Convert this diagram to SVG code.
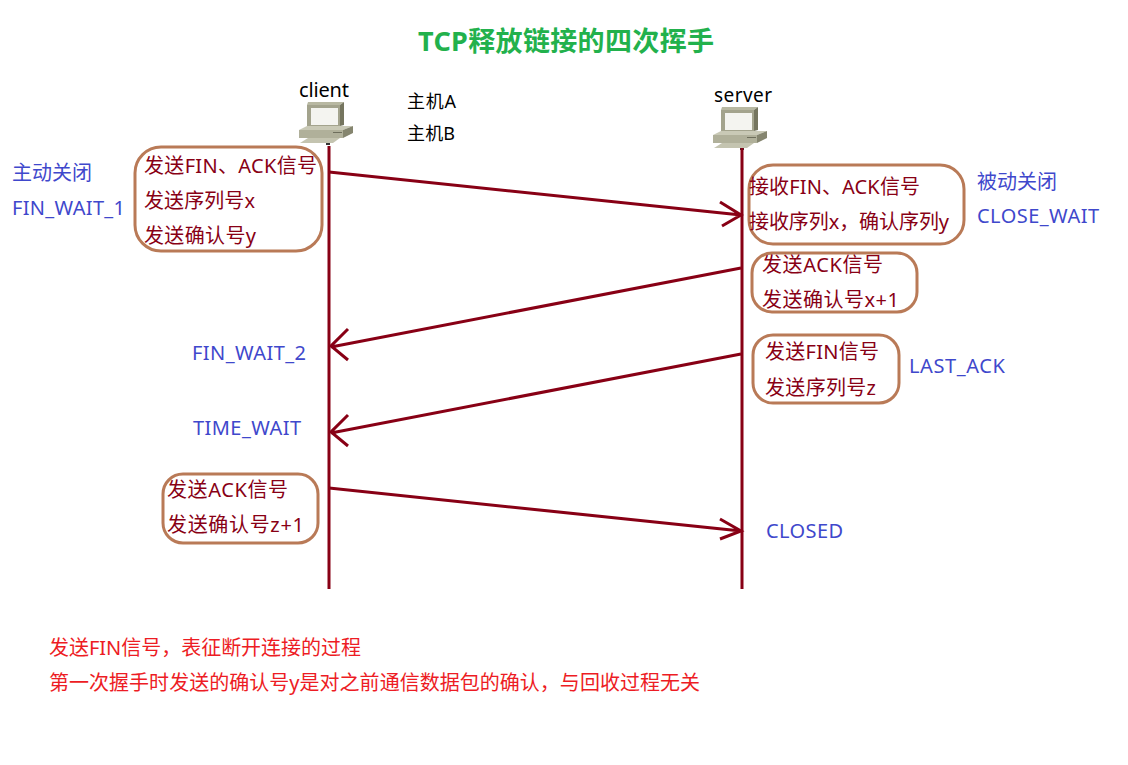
<svg xmlns="http://www.w3.org/2000/svg" width="1128" height="765" viewBox="0 0 1128 765">
<style>
text{font-family:"Noto Sans","Noto Sans CJK SC",sans-serif}
.t{font-size:20px;fill:#880015}
.s{font-size:20px;fill:#3f48cc}
.h{font-size:18px;fill:#000}
.r{font-size:20px;fill:#ed1c24}
.box{fill:none;stroke:#b97a57;stroke-width:3}
.ln{stroke:#880015;stroke-width:3;fill:none}
</style>
<defs>
<g id="pc">
<path d="M27 35L28 32H64L60 35Z" fill="#b8b8a2"/>
<rect x="27" y="35" width="33" height="21" fill="#a3a38d"/>
<path d="M60 35L64 32V55L60 56Z" fill="#75755f"/>
<rect x="31" y="38" width="27" height="17" fill="#f4f4f0"/>
<path d="M19 60L27 56H73L63 60Z" fill="#c9c9b6"/>
<rect x="19" y="60" width="44" height="8" fill="#b0b09a"/>
<path d="M63 60L73 56V63L63 68Z" fill="#85856f"/>
<rect x="53" y="62" width="9" height="1" fill="#6e6e5c"/>
<path d="M20 73L28 68H60L53 73Z" fill="#c4c4b0"/>
<rect x="46" y="73" width="4" height="2" fill="#333"/>
</g>
</defs>
<text id="title" x="566" y="51" text-anchor="middle" font-size="27" font-weight="700" fill="#22b14c" textLength="296">TCP释放链接的四次挥手</text>
<g id="client"><use href="#pc" transform="translate(280 70)"/><text x="299" y="97" class="h" style="font-size:20px" textLength="50">client</text></g>
<g id="server"><use href="#pc" transform="translate(694 75)"/><text x="714" y="102" class="h" style="font-size:19px" textLength="58">server</text></g>
<g id="hosts"><text x="407" y="108" class="h" textLength="49">主机A</text><text x="407" y="140" class="h" textLength="48">主机B</text></g>
<g id="connectors">
<path class="ln" d="M329 146V589M742 148V589"/>
<path class="ln" d="M329 172L741 215M720 202L741 215L722 226"/>
<path class="ln" d="M741 268L331 347M348 329L331 346L348 360"/>
<path class="ln" d="M741 354L331 433M348 415L331 432L348 446"/>
<path class="ln" d="M329 488L741 531M720 519L741 531L720 539"/>
</g>
<g id="box1"><rect class="box" x="135" y="147" width="187" height="104" rx="26"/>
<text class="t" x="144" y="173" textLength="173">发送FIN、ACK信号</text><text class="t" x="144" y="208" textLength="111">发送序列号x</text><text class="t" x="144" y="243" textLength="112">发送确认号y</text></g>
<g id="box2"><rect class="box" x="749" y="165" width="215" height="79" rx="24"/>
<text class="t" x="749" y="194" textLength="171">接收FIN、ACK信号</text><text class="t" x="749" y="229" textLength="200">接收序列x，确认序列y</text></g>
<g id="box3"><rect class="box" x="752" y="253" width="165" height="59" rx="20"/>
<text class="t" x="762" y="272" textLength="121">发送ACK信号</text><text class="t" x="762" y="307" textLength="137">发送确认号x+1</text></g>
<g id="box4"><rect class="box" x="753" y="335" width="146" height="68" rx="20"/>
<text class="t" x="765" y="359" textLength="114">发送FIN信号</text><text class="t" x="765" y="395" textLength="111">发送序列号z</text></g>
<g id="box5"><rect class="box" x="163" y="474" width="155" height="69" rx="20"/>
<text class="t" x="167" y="497" textLength="121">发送ACK信号</text><text class="t" x="167" y="532" textLength="137">发送确认号z+1</text></g>
<g id="states">
<text class="s" x="12" y="180">主动关闭</text><text class="s" x="12" y="215" textLength="113">FIN_WAIT_1</text>
<text class="s" x="977" y="189">被动关闭</text><text class="s" x="977" y="223" textLength="122">CLOSE_WAIT</text>
<text class="s" x="192" y="360" textLength="114">FIN_WAIT_2</text><text class="s" x="193" y="435" textLength="108">TIME_WAIT</text>
<text class="s" x="909" y="373" textLength="96">LAST_ACK</text><text class="s" x="766" y="538" textLength="77">CLOSED</text>
</g>
<g id="note"><text class="r" x="49" y="655" textLength="312">发送FIN信号，表征断开连接的过程</text><text class="r" x="49" y="690" textLength="651">第一次握手时发送的确认号y是对之前通信数据包的确认，与回收过程无关</text></g>
</svg>
